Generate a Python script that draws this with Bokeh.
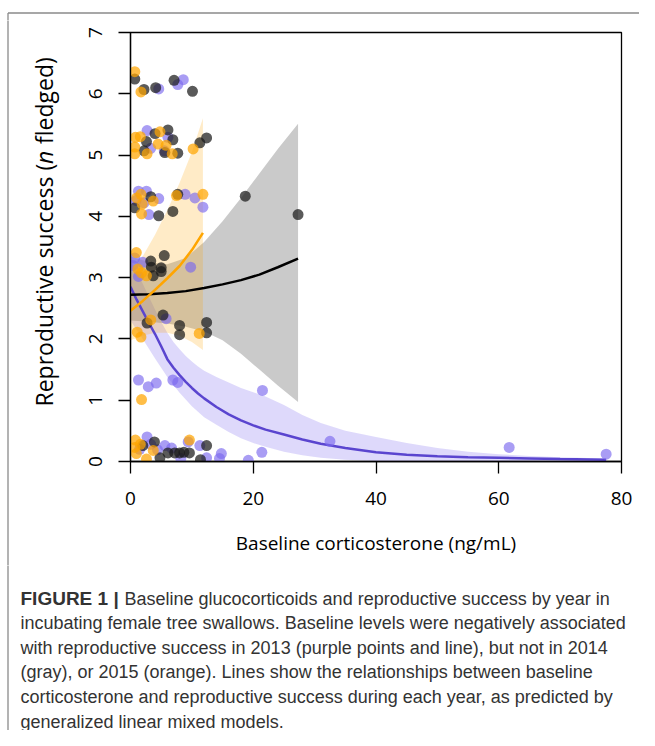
import numpy as np
from bokeh.plotting import figure
from bokeh.layouts import column, row
from bokeh.models import Range1d, FixedTicker
from bokeh.embed import file_html
from bokeh.resources import INLINE
from bokeh.core.properties import value

# ---------------- data ----------------
# 2013 (purple) observations
y2013_cort = [4.6, 7.7, 8.6,
              2.7, 3.3, 6.1, 5.5,
              1.3, 2.6, 0.9, 4.6, 3.0, 2.2, 8.9, 10.5, 11.8,
              0.7, 2.0, 9.8, 1.3, 0.4,
              5.8,
              1.3, 2.9, 4.2, 6.9, 7.7, 21.5,
              2.7, 5.6, 6.7, 4.4, 9.4, 11.3, 12.4, 14.8, 14.5, 8.2, 19.2, 21.4, 32.5, 61.7, 77.5, 1.5, 3.3]
y2013_fledged = [6.08, 6.15, 6.23,
                 5.40, 5.11, 5.29, 5.07,
                 4.41, 4.41, 4.26, 4.29, 4.03, 4.22, 4.36, 4.30, 4.15,
                 3.32, 3.25, 3.17, 3.02, 3.20,
                 2.33,
                 1.33, 1.22, 1.28, 1.33, 1.29, 1.16,
                 0.40, 0.26, 0.22, 0.19, 0.32, 0.26, 0.06, 0.13, 0.05, 0.05, 0.02, 0.15, 0.33, 0.23, 0.12, 0.20, 0.28]

# 2014 (gray) observations
y2014_cort = [0.7, 2.2, 4.1, 7.1, 10.1,
              2.6, 2.2, 4.0, 6.1, 6.9, 5.6, 7.7, 11.3, 12.4,
              3.3, 0.7, 4.6, 6.9, 7.7, 18.7, 27.3,
              3.3, 5.5, 3.4, 5.0, 3.7, 5.0,
              5.3, 2.7, 8.0, 8.0, 12.4, 12.4,
              2.0, 3.9, 4.8, 6.1, 7.2, 8.0, 8.7, 9.6, 11.4, 12.4]
y2014_fledged = [6.24, 6.07, 6.10, 6.22, 6.04,
                 5.22, 5.07, 5.35, 5.41, 5.25, 5.04, 5.03, 5.20, 5.28,
                 4.32, 4.14, 4.01, 4.08, 4.36, 4.33, 4.03,
                 3.27, 3.36, 3.17, 3.16, 3.03, 3.10,
                 2.39, 2.26, 2.22, 2.07, 2.27, 2.10,
                 0.26, 0.32, 0.06, 0.14, 0.14, 0.14, 0.15, 0.14, 0.03, 0.26]

# 2015 (orange) observations
y2015_cort = [0.7, 1.7,
              0.8, 0.7, 0.7, 2.7, 4.8, 4.5, 5.8, 6.8, 10.2, 1.6,
              1.7, 1.9, 3.7, 1.8, 7.5, 11.8, 1.0,
              0.95, 1.2, 2.6, 1.8,
              3.3, 11.2, 1.1, 1.7,
              1.8,
              0.8, 0.7, 0.95, 3.7, 2.6, 9.6, 1.6]
y2015_fledged = [6.36, 6.03,
                 5.29, 5.13, 5.02, 5.02, 5.38, 5.18, 5.16, 5.02, 5.10, 5.30,
                 4.36, 4.20, 4.25, 4.04, 4.34, 4.36, 4.30,
                 3.41, 3.14, 3.03, 3.08,
                 2.31, 2.09, 2.11, 2.03,
                 1.01,
                 0.35, 0.23, 0.13, 0.18, 0.04, 0.35, 0.28]

# model predictions
fit2013_x = [0, 1, 2, 3, 4, 5, 6, 7, 8, 9, 10, 11, 12, 14, 16, 18, 20, 22, 25, 28, 31, 35, 40, 45, 50, 55, 60, 65, 70, 77.5]
fit2013_y = [2.85, 2.64, 2.45, 2.26, 2.08, 1.88, 1.67, 1.53, 1.41, 1.30, 1.20, 1.11, 1.03, 0.89, 0.77, 0.67, 0.59, 0.52,
             0.44, 0.36, 0.29, 0.22, 0.15, 0.11, 0.085, 0.07, 0.06, 0.05, 0.04, 0.03]
fit2013_lo = [2.30, 2.15, 2.00, 1.84, 1.68, 1.53, 1.38, 1.25, 1.12, 1.01, 0.90, 0.81, 0.72, 0.60, 0.48, 0.38, 0.30, 0.24,
              0.16, 0.10, 0.06, 0.03, 0.01, 0.0, 0.0, 0.0, 0.0, 0.0, 0.0, 0.0]
fit2013_hi = [3.30, 3.10, 2.90, 2.69, 2.48, 2.28, 2.10, 1.95, 1.83, 1.72, 1.63, 1.55, 1.48, 1.38, 1.29, 1.20, 1.13, 1.06,
              0.92, 0.76, 0.63, 0.50, 0.40, 0.30, 0.22, 0.16, 0.12, 0.09, 0.07, 0.05]

fit2014_x = [0, 3, 6, 9, 12, 15, 18, 21, 24, 27.3]
fit2014_y = [2.72, 2.73, 2.75, 2.78, 2.83, 2.89, 2.96, 3.05, 3.17, 3.31]
fit2014_lo = [2.30, 2.28, 2.25, 2.20, 2.12, 1.98, 1.76, 1.50, 1.24, 0.97]
fit2014_hi = [3.35, 3.25, 3.22, 3.32, 3.58, 3.92, 4.30, 4.70, 5.10, 5.51]

fit2015_x = [0, 2, 4, 6, 8, 10, 11.8]
fit2015_y = [2.46, 2.62, 2.80, 2.99, 3.19, 3.45, 3.73]
fit2015_lo = [1.98, 2.05, 2.10, 2.10, 2.05, 1.95, 1.82]
fit2015_hi = [3.05, 3.35, 3.70, 4.10, 4.55, 5.05, 5.60]

x_ticks = [0, 20, 40, 60, 80]
y_ticks = [0, 1, 2, 3, 4, 5, 6, 7]
y_tick_labels = ["0", "1", "2", "3", "4", "5", "6", "7"]

x_title = "Baseline corticosterone (ng/mL)"
y_title_parts = ["Reproductive success (", "n", "fledged)"]

caption_head = "FIGURE 1 |"
caption_first = "Baseline glucocorticoids and reproductive success by year in"
caption_lines = [
    "incubating female tree swallows. Baseline levels were negatively associated",
    "with reproductive success in 2013 (purple points and line), but not in 2014",
    "(gray), or 2015 (orange). Lines show the relationships between baseline",
    "corticosterone and reproductive success during each year, as predicted by",
    "generalized linear mixed models.",
]

# ---------------- layout geometry (pixels) ----------------
TOTAL_W, TOTAL_H = 639, 730
TOP_H = 20            # strip carrying the outer frame's top line
ROW_H = 545           # row: y-title/labels strip + main plot
CAP_H = TOTAL_H - TOP_H - ROW_H
YLAB_W = 112
MAIN_W = TOTAL_W - YLAB_W
BOX_L, BOX_R, BOX_T, BOX_B = 130, 621, 32, 461
XMIN, XMAX, YMIN, YMAX = 0, 80, 0, 7
YS = (BOX_B - BOX_T) / (YMAX - YMIN)   # px per y unit
FRAME_COLOR = "#8a8a8a"
FRAME_X = 7.5
FRAME_Y = 12.5
FONT = "Open Sans"


def blank(w, h, yr=None):
    f = figure(width=w, height=h, x_range=Range1d(0, w), y_range=yr if yr is not None else Range1d(0, h),
               output_backend="svg", toolbar_location=None, title=None,
               x_axis_location=None, y_axis_location=None, min_border=0)
    f.frame_align = False
    f.grid.visible = False
    f.outline_line_color = None
    f.background_fill_color = "white"
    f.border_fill_color = "white"
    return f


# ---- top strip
top = blank(TOTAL_W, TOP_H)
top.segment(x0=[FRAME_X, FRAME_X], y0=[TOP_H - FRAME_Y, TOP_H - FRAME_Y],
            x1=[TOTAL_W + 5, FRAME_X], y1=[TOP_H - FRAME_Y, -2],
            line_color=FRAME_COLOR, line_width=1.3)

# ---- y labels strip: same y scale as the main plot
ylab_range = Range1d(YMIN - (TOP_H + ROW_H - BOX_B) / YS, YMAX + (BOX_T - TOP_H) / YS)
ylab = blank(YLAB_W, ROW_H, ylab_range)


def vy(page_y):
    return YMAX - (page_y - BOX_T) / YS


ylab.segment(x0=[FRAME_X], y0=[ylab_range.start - 1], x1=[FRAME_X], y1=[ylab_range.end + 1],
             line_color=FRAME_COLOR, line_width=1.3)
# tick labels (rotated, as in the original)
ylab.text(x=[95] * len(y_ticks), y=y_ticks, text=y_tick_labels, angle=np.pi / 2,
          text_align="center", text_baseline="middle", text_font=value(FONT),
          text_font_size="19px", text_color="black")
# axis title with italic n
YL_SIZE = "23px"
for txt, start_px, style in [(y_title_parts[0], 406, "normal"),
                             (y_title_parts[1], 163.5, "italic"),
                             (y_title_parts[2], 143.5, "normal")]:
    ylab.text(x=[43], y=[vy(start_px)], text=[txt], angle=np.pi / 2,
              text_align="left", text_baseline="middle", text_font=value(FONT),
              text_font_size=YL_SIZE, text_font_style=style, text_color="black")

# ---- main plot
p = figure(width=MAIN_W, height=ROW_H, x_range=Range1d(XMIN, XMAX), y_range=Range1d(YMIN, YMAX),
           output_backend="svg", toolbar_location=None, title=None,
           min_border_left=BOX_L - YLAB_W, min_border_right=TOTAL_W - BOX_R,
           min_border_top=BOX_T - TOP_H, min_border_bottom=TOP_H + ROW_H - BOX_B)
p.frame_align = False
p.grid.visible = False
p.outline_line_color = "black"
p.outline_line_width = 1.3
p.background_fill_color = "white"
p.border_fill_color = "white"

for ax in (p.xaxis[0], p.yaxis[0]):
    ax.axis_line_color = "black"
    ax.axis_line_width = 1.3
    ax.major_tick_line_color = "black"
    ax.major_tick_line_width = 1.3
    ax.major_tick_out = 12
    ax.major_tick_in = 0
    ax.minor_tick_line_color = None
    ax.major_label_text_font = FONT
    ax.major_label_text_font_size = "19px"
    ax.major_label_text_color = "black"

p.xaxis.ticker = FixedTicker(ticks=x_ticks)
p.yaxis.ticker = FixedTicker(ticks=y_ticks)
p.xaxis.major_label_standoff = 18
# y tick labels are drawn (rotated) in the strip to the left
p.yaxis.major_label_overrides = {t: "" for t in y_ticks}
p.yaxis.major_label_standoff = 0

p.xaxis.axis_label = x_title
p.xaxis.axis_label_text_font = FONT
p.xaxis.axis_label_text_font_size = "19px"
p.xaxis.axis_label_text_font_style = "normal"
p.xaxis.axis_label_text_color = "black"
p.xaxis.axis_label_standoff = 22

# bands
p.varea(x=fit2013_x, y1=fit2013_lo, y2=fit2013_hi, fill_color="#7b68ee", fill_alpha=0.25)
p.varea(x=fit2014_x, y1=fit2014_lo, y2=fit2014_hi, fill_color="#808080", fill_alpha=0.42)
p.varea(x=fit2015_x, y1=fit2015_lo, y2=fit2015_hi, fill_color="#ffa500", fill_alpha=0.22)

# lines
p.line(fit2013_x, fit2013_y, line_color="#5a45cf", line_width=2.5)
p.line(fit2014_x, fit2014_y, line_color="black", line_width=2.5)
p.line(fit2015_x, fit2015_y, line_color="#ffa500", line_width=2.5)

# points
p.scatter(y2013_cort, y2013_fledged, size=11, fill_color="#7b68ee", fill_alpha=0.65, line_color=None)
p.scatter(y2014_cort, y2014_fledged, size=11, fill_color="#1a1a1a", fill_alpha=0.72, line_color=None)
p.scatter(y2015_cort, y2015_fledged, size=11, fill_color="#ffa500", fill_alpha=0.72, line_color=None)

# ---- caption strip
cap = blank(TOTAL_W, CAP_H)
cap.segment(x0=[FRAME_X], y0=[-2], x1=[FRAME_X], y1=[CAP_H + 2], line_color=FRAME_COLOR, line_width=1.3)
CAP_FONT = value("Liberation Sans")
CAP_SIZE = "18px"
CAP_COLOR = "#333333"
cap_top = TOP_H + ROW_H
cap_y0 = 598
cap_dy = 24.6


def cy(page_y):
    return CAP_H - (page_y - cap_top)


cap.text(x=[20], y=[cy(cap_y0)], text=[caption_head], text_baseline="middle", text_font=CAP_FONT,
         text_font_size="19px", text_font_style="bold", text_color=CAP_COLOR)
cap.text(x=[124], y=[cy(cap_y0)], text=[caption_first], text_baseline="middle", text_font=CAP_FONT,
         text_font_size=CAP_SIZE, text_color=CAP_COLOR)
cap.text(x=[20] * len(caption_lines),
         y=[cy(cap_y0 + (i + 1) * cap_dy) for i in range(len(caption_lines))],
         text=caption_lines, text_baseline="middle", text_font=CAP_FONT,
         text_font_size=CAP_SIZE, text_color=CAP_COLOR)

layout = column(top, row(ylab, p, spacing=0), cap, spacing=0)
open("out.html", "w").write(file_html(layout, INLINE))
